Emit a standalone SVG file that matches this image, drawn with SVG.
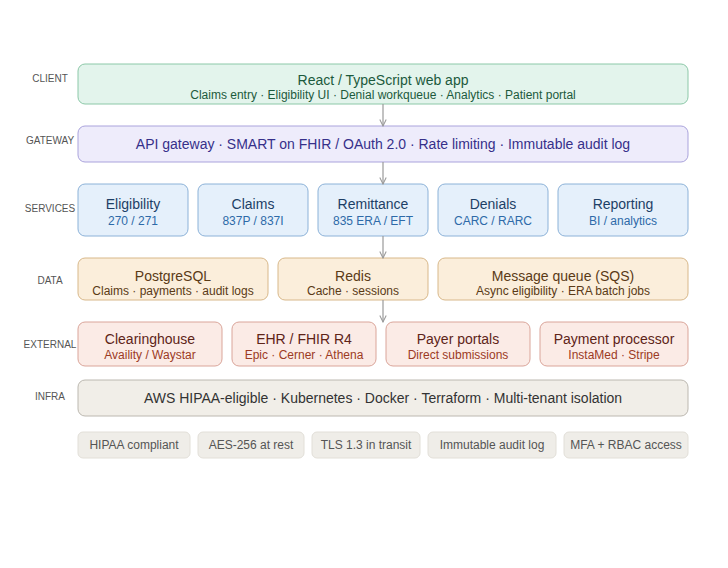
<svg xmlns="http://www.w3.org/2000/svg" width="728" height="568" viewBox="0 0 728 568">
<style>
text{font-family:"Liberation Sans",Arial,sans-serif;text-anchor:middle;dominant-baseline:central}
.lbl{font-size:10px;fill:#555}
.t{font-size:14px}.s{font-size:12px}
.cl rect{fill:#e3f4ec;stroke:#8cc8a8}.cl text{fill:#1c5a3c}
.gw rect{fill:#eeecfb;stroke:#aaa3dc}.gw text{fill:#36308a}
.sv rect{fill:#e5f0fb;stroke:#8cb2d8}.sv .t{fill:#1d3f66}.sv .s{fill:#2d6aa8}
.da rect{fill:#fbeedb;stroke:#d8b88a}.da text{fill:#5a3a16}
.ex rect{fill:#fbebe6;stroke:#daa59a}.ex .t{fill:#5e2418}.ex .s{fill:#9c3a24}
.in rect{fill:#f1eee8;stroke:#bcb8b0}.in text{fill:#333}
.bd rect{fill:#efede8;stroke:#e2dfd8}.bd text{fill:#555}
.cn line{stroke:#999;stroke-width:1.2;marker-end:url(#a)}
</style>
<defs><marker id="a" viewBox="0 0 10 10" refX="9" refY="5" markerWidth="8" markerHeight="8" orient="auto" markerUnits="userSpaceOnUse"><path d="M1,1 L9,5 L1,9" fill="none" stroke="#999" stroke-width="1.3"/></marker></defs>
<rect width="728" height="568" fill="#fff"/>
<g id="labels" class="lbl">
<text x="50" y="78">CLIENT</text><text x="50" y="140">GATEWAY</text><text x="50" y="208">SERVICES</text>
<text x="50" y="280">DATA</text><text x="50" y="344">EXTERNAL</text><text x="50" y="396">INFRA</text>
</g>
<g id="client" class="cl"><rect x="78" y="64" width="610" height="40" rx="7"/><text class="t" x="383" y="80">React / TypeScript web app</text><text class="s" x="383" y="95">Claims entry · Eligibility UI · Denial workqueue · Analytics · Patient portal</text></g>
<g id="gateway" class="gw"><rect x="78" y="126" width="610" height="36" rx="7"/><text class="t" x="383" y="144">API gateway · SMART on FHIR / OAuth 2.0 · Rate limiting · Immutable audit log</text></g>
<g id="eligibility" class="sv"><rect x="78" y="184" width="110" height="52" rx="7"/><text class="t" x="133" y="204">Eligibility</text><text class="s" x="133" y="221">270 / 271</text></g>
<g id="claims" class="sv"><rect x="198" y="184" width="110" height="52" rx="7"/><text class="t" x="253" y="204">Claims</text><text class="s" x="253" y="221">837P / 837I</text></g>
<g id="remittance" class="sv"><rect x="318" y="184" width="110" height="52" rx="7"/><text class="t" x="373" y="204">Remittance</text><text class="s" x="373" y="221">835 ERA / EFT</text></g>
<g id="denials" class="sv"><rect x="438" y="184" width="110" height="52" rx="7"/><text class="t" x="493" y="204">Denials</text><text class="s" x="493" y="221">CARC / RARC</text></g>
<g id="reporting" class="sv"><rect x="558" y="184" width="130" height="52" rx="7"/><text class="t" x="623" y="204">Reporting</text><text class="s" x="623" y="221">BI / analytics</text></g>
<g id="postgres" class="da"><rect x="78" y="258" width="190" height="42" rx="7"/><text class="t" x="173" y="276">PostgreSQL</text><text class="s" x="173" y="291">Claims · payments · audit logs</text></g>
<g id="redis" class="da"><rect x="278" y="258" width="150" height="42" rx="7"/><text class="t" x="353" y="276">Redis</text><text class="s" x="353" y="291">Cache · sessions</text></g>
<g id="sqs" class="da"><rect x="438" y="258" width="250" height="42" rx="7"/><text class="t" x="563" y="276">Message queue (SQS)</text><text class="s" x="563" y="291">Async eligibility · ERA batch jobs</text></g>
<g id="clearinghouse" class="ex"><rect x="78" y="322" width="144" height="44" rx="7"/><text class="t" x="150" y="339">Clearinghouse</text><text class="s" x="150" y="355">Availity / Waystar</text></g>
<g id="ehr" class="ex"><rect x="232" y="322" width="144" height="44" rx="7"/><text class="t" x="304" y="339">EHR / FHIR R4</text><text class="s" x="304" y="355">Epic · Cerner · Athena</text></g>
<g id="payer" class="ex"><rect x="386" y="322" width="144" height="44" rx="7"/><text class="t" x="458" y="339">Payer portals</text><text class="s" x="458" y="355">Direct submissions</text></g>
<g id="payment" class="ex"><rect x="540" y="322" width="148" height="44" rx="7"/><text class="t" x="614" y="339">Payment processor</text><text class="s" x="614" y="355">InstaMed · Stripe</text></g>
<g id="infra" class="in"><rect x="78" y="380" width="610" height="36" rx="7"/><text class="t" x="383" y="398">AWS HIPAA-eligible · Kubernetes · Docker · Terraform · Multi-tenant isolation</text></g>
<g id="badges" class="bd">
<rect x="78" y="432" width="112" height="26" rx="5"/><text class="s" x="134" y="445">HIPAA compliant</text>
<rect x="198" y="432" width="106" height="26" rx="5"/><text class="s" x="251" y="445">AES-256 at rest</text>
<rect x="312" y="432" width="108" height="26" rx="5"/><text class="s" x="366" y="445">TLS 1.3 in transit</text>
<rect x="428" y="432" width="128" height="26" rx="5"/><text class="s" x="492" y="445">Immutable audit log</text>
<rect x="564" y="432" width="124" height="26" rx="5"/><text class="s" x="626" y="445">MFA + RBAC access</text>
</g>
<g id="connectors" class="cn">
<line x1="383" y1="104" x2="383" y2="126"/><line x1="383" y1="162" x2="383" y2="184"/>
<line x1="383" y1="236" x2="383" y2="258"/><line x1="383" y1="300" x2="383" y2="322"/>
</g>
</svg>
